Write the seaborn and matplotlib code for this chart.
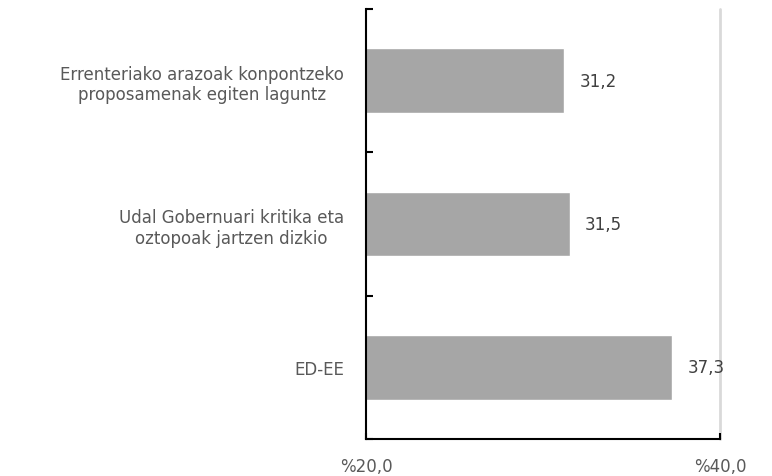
import numpy as np
import pandas as pd
import matplotlib
matplotlib.use("Agg")
import matplotlib.pyplot as plt
import seaborn as sns

categories = [
    "Errenteriako arazoak konpontzeko\nproposamenak egiten laguntz",
    "Udal Gobernuari kritika eta\noztopoak jartzen dizkio",
    "ED-EE",
]
values = [31.2, 31.5, 37.3]
x_ticks = [20, 40]
x_tick_labels = ["%20,0", "%40,0"]

sns.set_style("white")
plt.rcParams["font.family"] = ["DejaVu Sans"]

df = pd.DataFrame({"cat": categories, "val": values})

fig = plt.figure(figsize=(7.72, 4.77), dpi=100)
ax = fig.add_axes([366 / 772, 1 - 440 / 477, (720 - 366) / 772, 430 / 477])

sns.barplot(data=df, y="cat", x="val", orient="h", color="#A6A6A6",
            saturation=1, width=0.45, ax=ax)

ax.set_xlim(20, 40)
ax.set_ylim(2.5, -0.5)
ax.set_xticks(x_ticks)
ax.set_xticklabels(x_tick_labels)
ax.axvline(40, color="#D9D9D9", lw=2, zorder=0, clip_on=False)

# category boundaries as ticks, labels at category centres
ax.set_yticks([-0.5, 0.5, 1.5, 2.5])
ax.set_yticklabels([])
ax.set_yticks([0, 1, 2], minor=True)
ax.set_yticklabels(categories, minor=True, ha="right", multialignment="center")
ax.tick_params(axis="y", which="major", left=True, direction="in", length=5,
               width=1.5, color="black")
ax.tick_params(axis="y", which="minor", left=True, length=0, pad=16,
               labelsize=12, labelcolor="#595959")
ax.tick_params(axis="x", bottom=True, direction="in", length=4, width=1.5,
               color="black", pad=13, labelsize=12, labelcolor="#595959")
ax.set_xlabel("")
ax.set_ylabel("")

for s in ["top", "right"]:
    ax.spines[s].set_visible(False)
for s in ["left", "bottom"]:
    ax.spines[s].set_color("black")
    ax.spines[s].set_linewidth(1.5)

for cont in ax.containers:
    ax.bar_label(cont, labels=[f"{v:.1f}".replace(".", ",") for v in values],
                 padding=11, fontsize=12, color="#404040")

fig.savefig("out.png", dpi=100)
